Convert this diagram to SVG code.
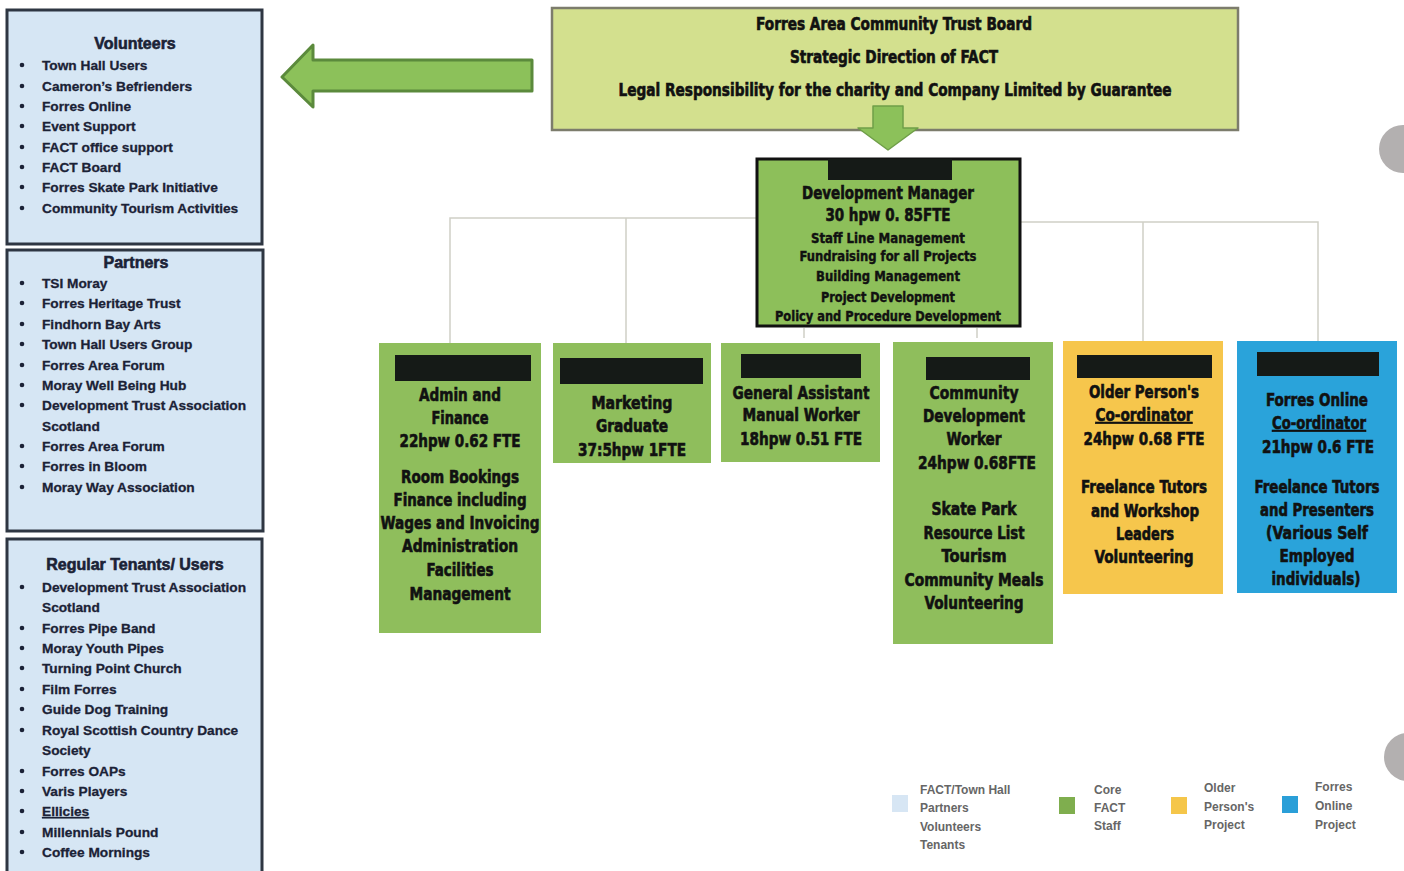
<svg xmlns="http://www.w3.org/2000/svg" width="1404" height="871" viewBox="0 0 1404 871">
<style>
.panel{fill:#d6e6f4;stroke:#2e3642;stroke-width:3}
.ptxt{font-family:"Liberation Sans",Arial,sans-serif;font-weight:bold;font-size:13.7px;fill:#1b2236;stroke:#1b2236;stroke-width:0.3}
.ptitle{font-size:16px;text-anchor:middle;stroke-width:0.6}
.bul{fill:#1b2236}
.stf{font-family:"Liberation Sans Narrow","DejaVu Sans Condensed","Liberation Sans",sans-serif;font-weight:bold;font-size:17px;fill:#111;text-anchor:middle;stroke:#111;stroke-width:0.6}
.sm{font-size:13.5px;stroke-width:0.4}
.green{fill:#8fbe5c}
.redact{fill:#151a17}
.conn{stroke:#cfcfc6;stroke-width:1.5;fill:none}
.leg{font-family:"Liberation Sans",Arial,sans-serif;font-weight:bold;font-size:12px;fill:#666}
</style>

<!-- Left panels -->
<g id="volunteers">
<rect class="panel" x="7" y="10" width="255" height="234"/>
<text class="ptxt ptitle" x="135" y="49">Volunteers</text>
<g class="bul"><circle cx="22" cy="65" r="2.3"/><circle cx="22" cy="86" r="2.3"/><circle cx="22" cy="106" r="2.3"/><circle cx="22" cy="126" r="2.3"/><circle cx="22" cy="147" r="2.3"/><circle cx="22" cy="167" r="2.3"/><circle cx="22" cy="187" r="2.3"/><circle cx="22" cy="208" r="2.3"/></g>
<text class="ptxt" x="42" y="70">Town Hall Users</text>
<text class="ptxt" x="42" y="91">Cameron’s Befrienders</text>
<text class="ptxt" x="42" y="111">Forres Online</text>
<text class="ptxt" x="42" y="131">Event Support</text>
<text class="ptxt" x="42" y="152">FACT office support</text>
<text class="ptxt" x="42" y="172">FACT Board</text>
<text class="ptxt" x="42" y="192">Forres Skate Park Initiative</text>
<text class="ptxt" x="42" y="213">Community Tourism Activities</text>
</g>

<g id="partners">
<rect class="panel" x="7" y="250" width="256" height="281"/>
<text class="ptxt ptitle" x="136" y="268">Partners</text>
<g class="bul"><circle cx="22" cy="283" r="2.3"/><circle cx="22" cy="303" r="2.3"/><circle cx="22" cy="324" r="2.3"/><circle cx="22" cy="344" r="2.3"/><circle cx="22" cy="365" r="2.3"/><circle cx="22" cy="385" r="2.3"/><circle cx="22" cy="405" r="2.3"/><circle cx="22" cy="446" r="2.3"/><circle cx="22" cy="466" r="2.3"/><circle cx="22" cy="487" r="2.3"/></g>
<text class="ptxt" x="42" y="288">TSI Moray</text>
<text class="ptxt" x="42" y="308">Forres Heritage Trust</text>
<text class="ptxt" x="42" y="329">Findhorn Bay Arts</text>
<text class="ptxt" x="42" y="349">Town Hall Users Group</text>
<text class="ptxt" x="42" y="370">Forres Area Forum</text>
<text class="ptxt" x="42" y="390">Moray Well Being Hub</text>
<text class="ptxt" x="42" y="410">Development Trust Association</text>
<text class="ptxt" x="42" y="431">Scotland</text>
<text class="ptxt" x="42" y="451">Forres Area Forum</text>
<text class="ptxt" x="42" y="471">Forres in Bloom</text>
<text class="ptxt" x="42" y="492">Moray Way Association</text>
</g>

<g id="tenants">
<rect class="panel" x="7" y="539" width="255" height="345"/>
<text class="ptxt ptitle" x="135" y="570">Regular Tenants/ Users</text>
<g class="bul"><circle cx="22" cy="587" r="2.3"/><circle cx="22" cy="628" r="2.3"/><circle cx="22" cy="648" r="2.3"/><circle cx="22" cy="668" r="2.3"/><circle cx="22" cy="689" r="2.3"/><circle cx="22" cy="709" r="2.3"/><circle cx="22" cy="730" r="2.3"/><circle cx="22" cy="771" r="2.3"/><circle cx="22" cy="791" r="2.3"/><circle cx="22" cy="811" r="2.3"/><circle cx="22" cy="832" r="2.3"/><circle cx="22" cy="852" r="2.3"/></g>
<text class="ptxt" x="42" y="592">Development Trust Association</text>
<text class="ptxt" x="42" y="612">Scotland</text>
<text class="ptxt" x="42" y="633">Forres Pipe Band</text>
<text class="ptxt" x="42" y="653">Moray Youth Pipes</text>
<text class="ptxt" x="42" y="673">Turning Point Church</text>
<text class="ptxt" x="42" y="694">Film Forres</text>
<text class="ptxt" x="42" y="714">Guide Dog Training</text>
<text class="ptxt" x="42" y="735">Royal Scottish Country Dance</text>
<text class="ptxt" x="42" y="755">Society</text>
<text class="ptxt" x="42" y="776">Forres OAPs</text>
<text class="ptxt" x="42" y="796">Varis Players</text>
<text class="ptxt" x="42" y="816" text-decoration="underline">Ellicies</text>
<text class="ptxt" x="42" y="837">Millennials Pound</text>
<text class="ptxt" x="42" y="857">Coffee Mornings</text>
</g>

<!-- Left arrow -->
<g id="arrow-left">
<path d="M282,77 L313,45 L313,60 L532,60 L532,91 L313,91 L313,107 Z" fill="#8cc15a" stroke="#5b8a3c" stroke-width="3" stroke-linejoin="round"/>
</g>

<!-- Board -->
<g id="board">
<rect x="552" y="8" width="686" height="122" fill="#d3e08e" stroke="#7c7c6c" stroke-width="2.5"/>
<text class="stf" x="894" y="30" textLength="276" lengthAdjust="spacingAndGlyphs">Forres Area Community Trust Board</text>
<text class="stf" x="894" y="63" textLength="208" lengthAdjust="spacingAndGlyphs">Strategic Direction of FACT</text>
<text class="stf" x="895" y="96" textLength="553" lengthAdjust="spacingAndGlyphs">Legal Responsibility for the charity and Company Limited by Guarantee</text>
</g>

<!-- Down arrow -->
<g id="arrow-down">
<path d="M873,106 L903,106 L903,128 L918,128 L888,150 L858,128 L873,128 Z" fill="#8cc15a" stroke="#6f9e48" stroke-width="1.5" stroke-linejoin="round"/>
</g>

<!-- Connectors -->
<g id="connectors" class="conn">
<polyline points="757,218 450,218 450,343"/>
<line x1="626" y1="218" x2="626" y2="343"/>
<polyline points="1020,222 1318,222 1318,341"/>
<line x1="1143" y1="222" x2="1143" y2="341"/>
<line x1="804" y1="328" x2="804" y2="338"/>
<line x1="977" y1="328" x2="977" y2="338"/>
</g>

<!-- Development Manager -->
<g id="dev-manager">
<rect x="757" y="159" width="263" height="167" fill="#8dbf5a" stroke="#111" stroke-width="3"/>
<rect class="redact" x="828" y="159" width="124" height="21"/>
<text class="stf" x="888" y="199" textLength="172" lengthAdjust="spacingAndGlyphs">Development Manager</text>
<text class="stf" x="888" y="221" textLength="125" lengthAdjust="spacingAndGlyphs">30 hpw 0. 85FTE</text>
<text class="stf sm" x="888" y="243" textLength="154" lengthAdjust="spacingAndGlyphs">Staff Line Management</text>
<text class="stf sm" x="888" y="261" textLength="177" lengthAdjust="spacingAndGlyphs">Fundraising for all Projects</text>
<text class="stf sm" x="888" y="281" textLength="144" lengthAdjust="spacingAndGlyphs">Building Management</text>
<text class="stf sm" x="888" y="302" textLength="134" lengthAdjust="spacingAndGlyphs">Project Development</text>
<text class="stf sm" x="888" y="321" textLength="226" lengthAdjust="spacingAndGlyphs">Policy and Procedure Development</text>
</g>

<!-- Staff boxes -->
<g id="admin">
<rect class="green" x="379" y="343" width="162" height="290"/>
<rect class="redact" x="395" y="355" width="136" height="26"/>
<text class="stf" x="460" y="401" textLength="82" lengthAdjust="spacingAndGlyphs">Admin and</text>
<text class="stf" x="460" y="424" textLength="57" lengthAdjust="spacingAndGlyphs">Finance</text>
<text class="stf" x="460" y="447" textLength="121" lengthAdjust="spacingAndGlyphs">22hpw 0.62 FTE</text>
<text class="stf" x="460" y="483" textLength="118" lengthAdjust="spacingAndGlyphs">Room Bookings</text>
<text class="stf" x="460" y="506" textLength="133" lengthAdjust="spacingAndGlyphs">Finance including</text>
<text class="stf" x="460" y="529" textLength="159" lengthAdjust="spacingAndGlyphs">Wages and Invoicing</text>
<text class="stf" x="460" y="552" textLength="116" lengthAdjust="spacingAndGlyphs">Administration</text>
<text class="stf" x="460" y="576" textLength="67" lengthAdjust="spacingAndGlyphs">Facilities</text>
<text class="stf" x="460" y="600" textLength="101" lengthAdjust="spacingAndGlyphs">Management</text>
</g>

<g id="marketing">
<rect class="green" x="553" y="343" width="158" height="120"/>
<rect class="redact" x="560" y="358" width="143" height="26"/>
<text class="stf" x="632" y="409" textLength="81" lengthAdjust="spacingAndGlyphs">Marketing</text>
<text class="stf" x="632" y="432" textLength="72" lengthAdjust="spacingAndGlyphs">Graduate</text>
<text class="stf" x="632" y="456" textLength="108" lengthAdjust="spacingAndGlyphs">37:5hpw 1FTE</text>
</g>

<g id="general-assistant">
<rect class="green" x="721" y="343" width="159" height="119"/>
<rect class="redact" x="741" y="354" width="120" height="24"/>
<text class="stf" x="801" y="399" textLength="137" lengthAdjust="spacingAndGlyphs">General Assistant</text>
<text class="stf" x="801" y="421" textLength="117" lengthAdjust="spacingAndGlyphs">Manual Worker</text>
<text class="stf" x="801" y="445" textLength="122" lengthAdjust="spacingAndGlyphs">18hpw 0.51 FTE</text>
</g>

<g id="community-dev">
<rect class="green" x="893" y="342" width="160" height="302"/>
<rect class="redact" x="926" y="357" width="104" height="23"/>
<text class="stf" x="974" y="399" textLength="89" lengthAdjust="spacingAndGlyphs">Community</text>
<text class="stf" x="974" y="422" textLength="102" lengthAdjust="spacingAndGlyphs">Development</text>
<text class="stf" x="974" y="445" textLength="55" lengthAdjust="spacingAndGlyphs">Worker</text>
<text class="stf" x="977" y="469" textLength="118" lengthAdjust="spacingAndGlyphs">24hpw 0.68FTE</text>
<text class="stf" x="974" y="515" textLength="85" lengthAdjust="spacingAndGlyphs">Skate Park</text>
<text class="stf" x="974" y="539" textLength="101" lengthAdjust="spacingAndGlyphs">Resource List</text>
<text class="stf" x="974" y="562" textLength="65" lengthAdjust="spacingAndGlyphs">Tourism</text>
<text class="stf" x="974" y="586" textLength="139" lengthAdjust="spacingAndGlyphs">Community Meals</text>
<text class="stf" x="974" y="609" textLength="99" lengthAdjust="spacingAndGlyphs">Volunteering</text>
</g>

<g id="older-persons">
<rect x="1063" y="341" width="160" height="253" fill="#f6c64c"/>
<rect class="redact" x="1077" y="355" width="135" height="23"/>
<text class="stf" x="1144" y="398" textLength="110" lengthAdjust="spacingAndGlyphs">Older Person's</text>
<text class="stf" x="1144" y="421" textLength="97" lengthAdjust="spacingAndGlyphs" text-decoration="underline">Co-ordinator</text>
<text class="stf" x="1144" y="445" textLength="121" lengthAdjust="spacingAndGlyphs">24hpw 0.68 FTE</text>
<text class="stf" x="1144" y="493" textLength="126" lengthAdjust="spacingAndGlyphs">Freelance Tutors</text>
<text class="stf" x="1145" y="517" textLength="108" lengthAdjust="spacingAndGlyphs">and Workshop</text>
<text class="stf" x="1145" y="540" textLength="58" lengthAdjust="spacingAndGlyphs">Leaders</text>
<text class="stf" x="1144" y="563" textLength="99" lengthAdjust="spacingAndGlyphs">Volunteering</text>
</g>

<g id="forres-online">
<rect x="1237" y="341" width="160" height="252" fill="#2aa3da"/>
<rect class="redact" x="1257" y="352" width="122" height="24"/>
<text class="stf" x="1317" y="406" textLength="102" lengthAdjust="spacingAndGlyphs">Forres Online</text>
<text class="stf" x="1319" y="429" textLength="94" lengthAdjust="spacingAndGlyphs" text-decoration="underline">Co-ordinator</text>
<text class="stf" x="1318" y="453" textLength="112" lengthAdjust="spacingAndGlyphs">21hpw 0.6 FTE</text>
<text class="stf" x="1317" y="493" textLength="125" lengthAdjust="spacingAndGlyphs">Freelance Tutors</text>
<text class="stf" x="1317" y="516" textLength="114" lengthAdjust="spacingAndGlyphs">and Presenters</text>
<text class="stf" x="1317" y="539" textLength="102" lengthAdjust="spacingAndGlyphs">(Various Self</text>
<text class="stf" x="1317" y="562" textLength="75" lengthAdjust="spacingAndGlyphs">Employed</text>
<text class="stf" x="1316" y="585" textLength="89" lengthAdjust="spacingAndGlyphs">individuals)</text>
</g>

<!-- Legend -->
<g id="legend">
<rect x="892" y="795" width="16" height="17" fill="#d7e6f4"/>
<text class="leg" x="920" y="794">FACT/Town Hall</text>
<text class="leg" x="920" y="812">Partners</text>
<text class="leg" x="920" y="831">Volunteers</text>
<text class="leg" x="920" y="849">Tenants</text>
<rect x="1059" y="797" width="16" height="17" fill="#7fae4e"/>
<text class="leg" x="1094" y="794">Core</text>
<text class="leg" x="1094" y="812">FACT</text>
<text class="leg" x="1094" y="830">Staff</text>
<rect x="1171" y="797" width="16" height="17" fill="#f5c64a"/>
<text class="leg" x="1204" y="792">Older</text>
<text class="leg" x="1204" y="811">Person's</text>
<text class="leg" x="1204" y="829">Project</text>
<rect x="1282" y="796" width="16" height="17" fill="#2a9fd8"/>
<text class="leg" x="1315" y="791">Forres</text>
<text class="leg" x="1315" y="810">Online</text>
<text class="leg" x="1315" y="829">Project</text>
</g>

<!-- Edge circles -->
<circle cx="1403" cy="149" r="24" fill="#b3b0b0"/>
<circle cx="1408" cy="757" r="24" fill="#b3b0b0"/>
</svg>
